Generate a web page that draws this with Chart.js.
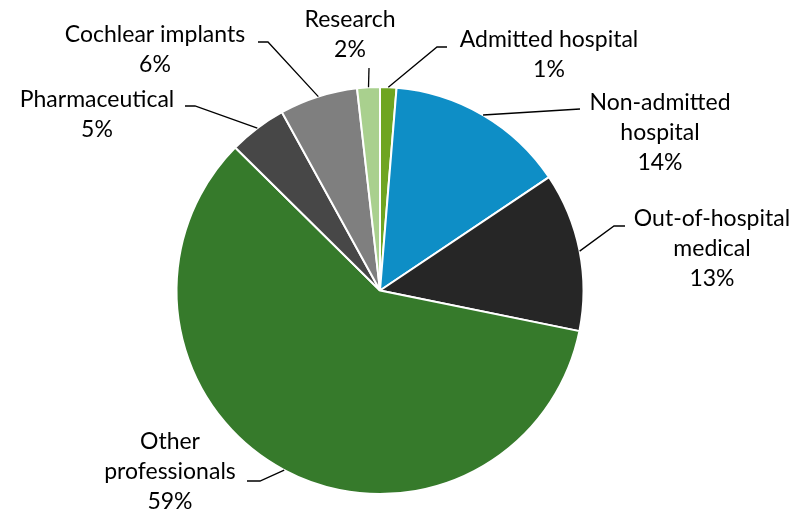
<!DOCTYPE html>
<html>
<head>
<meta charset="utf-8">
<script src="https://cdn.jsdelivr.net/npm/chart.js@4.4.1/dist/chart.umd.min.js"></script>
<style>
    html, body { margin: 0; padding: 0; background: #fff; }
    #wrap { width: 800px; height: 519px; position: relative; }
</style>
</head>
<body>
<div id="wrap"><canvas id="chart_pie"></canvas></div>
<script>
// Data (clockwise from 12 o'clock)
const categories = ['Admitted hospital', 'Non-admitted hospital', 'Out-of-hospital medical',
    'Other professionals', 'Pharmaceutical', 'Cochlear implants', 'Research'];
const shares = [1.3, 14.3, 12.6, 59.2, 4.6, 6.2, 1.8];
const sliceColors = ['#6fa521', '#0e8ec6', '#262626', '#367a2b', '#474747', '#7f7f7f', '#a9d08e'];

// label text lines and where they sit (x = centre of text, y = middle of first line)
const labelLines = [
    ['Admitted hospital'],
    ['Non-admitted', 'hospital'],
    ['Out-of-hospital', 'medical'],
    ['Other', 'professionals'],
    ['Pharmaceutical'],
    ['Cochlear implants'],
    ['Research']
];
const labelPos = [
    { x: 549, y: 40, elbow: [437, 47], end: [447, 47] },
    { x: 660, y: 103, elbow: null, end: [580, 109] },
    { x: 712, y: 219, elbow: [614, 226], end: [625, 226] },
    { x: 170, y: 442, elbow: [260, 481], end: [247, 481] },
    { x: 97, y: 100, elbow: [195, 106], end: [185, 106] },
    { x: 155, y: 35, elbow: [268, 42], end: [258, 42] },
    { x: 350, y: 20, elbow: null, end: [369, 68] }
];

const lineHeight = 30;
const fontSpec = '23px Lato, "Open Sans", sans-serif';

const leaderLabels = {
    id: 'leaderLabels',
    afterDatasetsDraw(chart) {
        const ctx = chart.ctx;
        const meta = chart.getDatasetMeta(0);
        const total = shares.reduce((a, b) => a + b, 0);
        ctx.save();
        ctx.font = fontSpec;
        ctx.fillStyle = '#000';
        ctx.textAlign = 'center';
        ctx.textBaseline = 'middle';
        meta.data.forEach((arc, i) => {
            const p = labelPos[i];
            const mid = (arc.startAngle + arc.endAngle) / 2;
            const sx = arc.x + Math.cos(mid) * arc.outerRadius;
            const sy = arc.y + Math.sin(mid) * arc.outerRadius;

            // leader line
            ctx.beginPath();
            ctx.strokeStyle = '#000';
            ctx.lineWidth = 1.3;
            ctx.moveTo(sx, sy);
            if (p.elbow) ctx.lineTo(p.elbow[0], p.elbow[1]);
            ctx.lineTo(p.end[0], p.end[1]);
            ctx.stroke();

            // text
            const lines = labelLines[i].concat([Math.round(shares[i] / total * 100) + '%']);
            lines.forEach((t, k) => {
                ctx.fillText(t, p.x, p.y + k * lineHeight);
            });
        });
        ctx.restore();
    }
};

new Chart(document.getElementById('chart_pie').getContext('2d'), {
    type: 'pie',
    data: {
        labels: categories,
        datasets: [{
            data: shares,
            backgroundColor: sliceColors,
            borderColor: '#fff',
            borderWidth: 2
        }]
    },
    plugins: [leaderLabels],
    options: {
        responsive: true,
        maintainAspectRatio: false,
        animation: false,
        layout: {
            padding: { top: 86, bottom: 24, left: 100, right: 140 }
        },
        plugins: {
            legend: { display: false },
            tooltip: { enabled: false }
        }
    }
});
</script>
</body>
</html>
